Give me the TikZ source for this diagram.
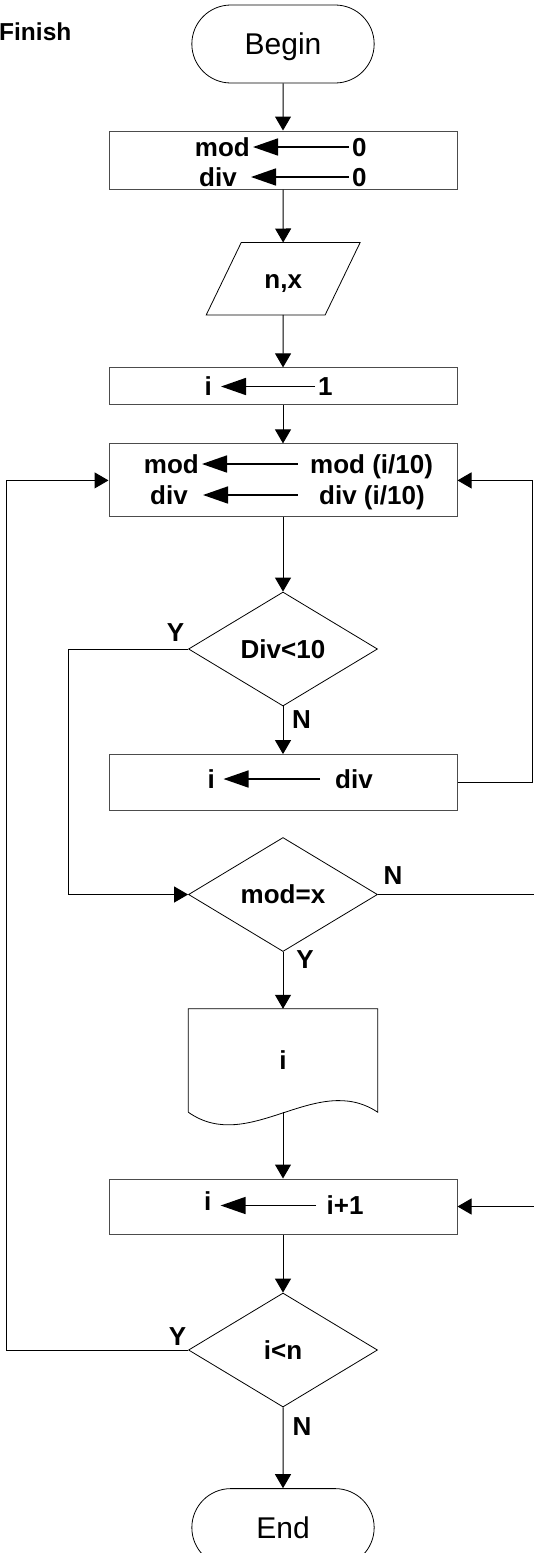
\documentclass[tikz,border=0pt]{standalone}
\usepackage{fontspec}
\setmainfont{Liberation Sans}
\usetikzlibrary{arrows.meta,positioning,shapes.geometric,shapes.misc}

\tikzset{
  lab/.style={font=\fontsize{26}{30}\selectfont\bfseries, text height=18.7pt, text depth=0pt},
  var/.style={lab, inner xsep=3pt, inner ysep=0pt},
  term/.style={draw, line width=.8pt, rounded rectangle, minimum width=189, minimum height=78,
    font=\fontsize{30}{34}\selectfont, text height=21.6pt, text depth=0pt},
  proc/.style={draw=black!70, line width=1pt, rectangle, minimum width=348},
  dec/.style={draw, line width=.8pt, diamond, minimum width=189, minimum height=114, inner sep=0pt, lab},
  flow/.style={-{Triangle[length=14pt,width=16pt]}, line width=1pt},
  asg/.style={-{Triangle[length=25pt,width=17pt]}, line width=1.6pt},
}

\begin{document}
\begin{tikzpicture}[x=1pt, y=-1pt]
\useasboundingbox (0,0) rectangle (533,1553);
\node[lab, font=\fontsize{24.5}{28}\selectfont\bfseries, inner xsep=0pt, anchor=west] (fin) at (-1,31.5) {Finish};
% blocks down the middle
\node[term] (start) at (283,44) {Begin};
\node[proc, minimum height=58] (init) at (283,160) {};
\node[minimum width=118.5, minimum height=72, lab] (inp) at (283.2,278.7) {n,x};
\draw[line width=.8pt] ([xshift=-17.5pt]inp.south west) -- ([xshift=17.5pt]inp.north west)
  -- ([xshift=17.5pt]inp.north east) -- ([xshift=-17.5pt]inp.south east) -- cycle;
\node[proc, minimum height=37] (seti) at (283,386.4) {};
\node[proc, minimum height=73] (calc) at (283,480.4) {};
\node[dec] (tst) at (283,649) {Div<10};
\node[proc, minimum height=55.4] (upd) at (283,782.3) {};
\node[dec] (cmp) at (283,894.5) {mod=x};
\node[minimum width=189, minimum height=103, lab] (out) at (283,1060.5) {i};
\draw[line width=.8pt] (out.south west) -- (out.north west) -- (out.north east) -- (out.south east)
  .. controls +(-61.5,-41) and +(61,43) .. (out.south west);
\node[proc, minimum height=55] (inc) at (283,1206.5) {};
\node[dec] (rep) at (283,1350) {i<n};
\node[term] (stop) at (283,1527.6) {End};
% assignments inside the boxes
\node[var, anchor=east] (m1) at (253,147) {mod};
\node[var, anchor=west] (z1) at (349,147) {0};
\node[var, anchor=east] (d1) at (240,177) {div};
\node[var, anchor=west] (z2) at (349,177) {0};
\draw[asg] (z1) -- (m1);
\draw[asg, shorten >=11pt] (z2) -- (d1);
\node[var, anchor=east] (i1) at (215,386.5) {i};
\node[var, anchor=west] (one) at (315,386.5) {1};
\draw[asg, shorten >=6pt] (one) -- (i1);
\node[var, anchor=east] (m2) at (202,464) {mod};
\node[var, anchor=west] (m2r) at (307,464) {mod (i/10)};
\node[var, anchor=east] (d2) at (191,495) {div};
\node[var, anchor=west] (d2r) at (316,495) {div (i/10)};
\draw[asg, shorten <=9.5pt] (m2r) -- (m2);
\draw[asg, shorten <=18.5pt, shorten >=12pt] (d2r) -- (d2);
\node[var, anchor=east] (i2) at (218,779) {i};
\node[var, anchor=west] (dv) at (332,779) {div};
\draw[asg, shorten <=12pt, shorten >=5.5pt] (dv) -- (i2);
\node[var, anchor=east] (i3) at (214.6,1201) {i};
\node[var, anchor=west] (ip) at (323.5,1205.5) {i+1};
\draw[asg, shorten <=7.5pt, shorten >=6pt] (ip) -- (ip -| i3.east);
% main flow
\foreach \a/\b in {start/init, init/inp, inp/seti, seti/calc, calc/tst, tst/upd, cmp/out, out/inc, inc/rep, rep/stop}
  \draw[flow] (\a) -- (\b);
% loops and branches
\draw[flow] (tst.west) -- ++(-120,0) |- (cmp.west);
\draw[flow] (upd.east) -- ++(75,0) |- (calc.east);
\draw[flow] (cmp.east) -- ++(170,0) |- (inc.east);
\draw[flow] (rep.west) -- ++(-181.3,0) |- (calc.west);
\node[lab] (y1) at (175.5,632) {Y};
\node[lab] (n1) at (301.5,719) {N};
\node[lab] (n2) at (393,875) {N};
\node[lab] (y2) at (305,959) {Y};
\node[lab] (y3) at (177.5,1336.5) {Y};
\node[lab] (n3) at (302,1426.5) {N};
\end{tikzpicture}
\end{document}
